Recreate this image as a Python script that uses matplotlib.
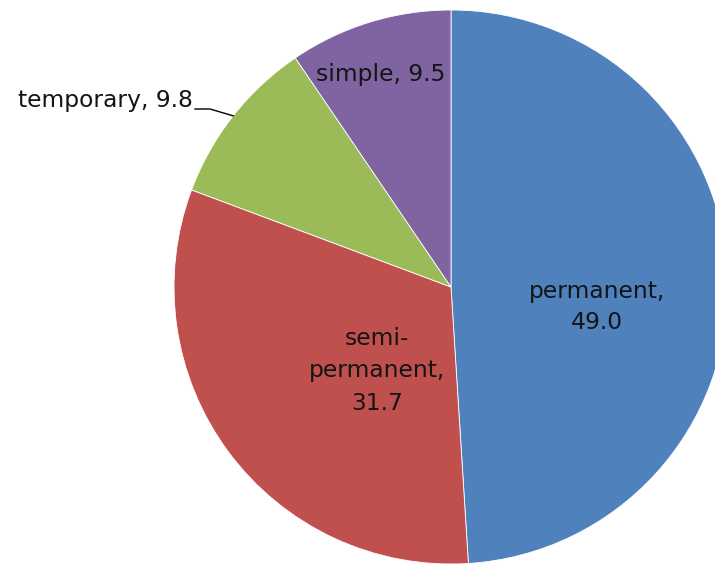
import matplotlib
matplotlib.use("Agg")
import matplotlib.pyplot as plt
import numpy as np

categories = ["permanent", "semi-permanent", "temporary", "simple"]
values = [49.0, 31.7, 9.8, 9.5]
label_texts = ["permanent,\n49.0", "semi-\npermanent,\n31.7", "temporary, 9.8", "simple, 9.5"]
colors = ["#4F81BD", "#C0504D", "#9BBB59", "#8064A2"]

W, H = 715, 564
fig = plt.figure(figsize=(W / 100, H / 100), dpi=100)
ax = fig.add_axes([0, 0, 1, 1])

cx, cy, R = 451, H - 287, 277
wedges, _ = ax.pie(values, colors=colors, startangle=90, counterclock=False,
                   center=(cx, cy), radius=R, frame=True,
                   wedgeprops=dict(edgecolor="white", linewidth=0.6))
ax.set_xlim(0, W)
ax.set_ylim(0, H)
ax.set_aspect("equal")
ax.axis("off")

font = dict(family="DejaVu Sans", fontsize=16.8, color="#141414")

# label positions (pixel coords from top-left)
ax.text(597, H - 307, label_texts[0], ha="center", va="center", linespacing=1.45, **font)
ax.text(377, H - 371, label_texts[1], ha="center", va="center", linespacing=1.55, **font)
ax.text(381, H - 75, label_texts[3], ha="center", va="center", **font)
ax.text(193, H - 107, label_texts[2], ha="right", va="baseline", **font)

# leader line for temporary: ends at slice edge midpoint
w = wedges[2]
mid = np.deg2rad((w.theta1 + w.theta2) / 2)
ex, ey = cx + R * np.cos(mid), cy + R * np.sin(mid)
ax.plot([195, 210, ex], [H - 109, H - 109, ey], color="black", linewidth=1.0)

fig.savefig("out.png", dpi=100)
